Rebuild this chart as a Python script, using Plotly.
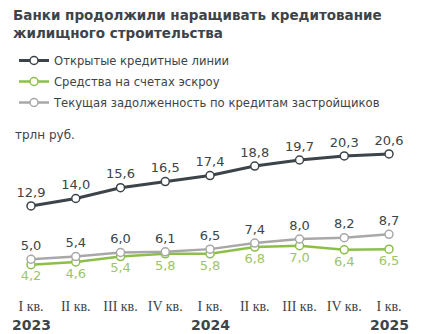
import plotly.graph_objects as go

quarters = ["I кв.", "II кв.", "III кв.", "IV кв.", "I кв.", "II кв.", "III кв.", "IV кв.", "I кв."]
years = {0: "2023", 4: "2024", 8: "2025"}
credit_lines = [12.9, 14.0, 15.6, 16.5, 17.4, 18.8, 19.7, 20.3, 20.6]
escrow = [4.2, 4.6, 5.4, 5.8, 5.8, 6.8, 7.0, 6.4, 6.5]
debt = [5.0, 5.4, 6.0, 6.1, 6.5, 7.4, 8.0, 8.2, 8.7]

names = ["Открытые кредитные линии", "Средства на счетах эскроу",
         "Текущая задолженность по кредитам застройщиков"]

DARK = "#3d4449"
GREEN = "#8cbf4a"
GREEN_TXT = "#9cc46b"
GRAY = "#a8a8aa"
SANS = "DejaVu Sans"

x = list(range(len(quarters)))

def fmt(v):
    return f"{v:.1f}".replace(".", ",")

fig = go.Figure()
series = [
    (credit_lines, names[0], DARK, DARK, "top center", 3),
    (escrow, names[1], GREEN, GREEN_TXT, "bottom center", 2.5),
    (debt, names[2], GRAY, DARK, "top center", 2.5),
]
for i, (vals, nm, col, tcol, tpos, w) in enumerate(series):
    fig.add_trace(go.Scatter(
        x=x, y=vals, name=nm, legendgroup=f"g{i}",
        mode="lines+markers+text",
        text=[fmt(v) for v in vals], textposition=tpos,
        textfont=dict(family=SANS, size=13, color=tcol),
        line=dict(color=col, width=w),
        marker=dict(symbol="circle", size=8, color="white",
                    line=dict(color=col, width=1.5)),
        cliponaxis=False,
    ))

for idx, yr in years.items():
    fig.add_annotation(x=idx, y=-0.113, xref="x", yref="paper", text=f"<b>{yr}</b>",
                       showarrow=False, yanchor="middle",
                       font=dict(family=SANS, size=14, color=DARK))

fig.add_annotation(x=13/421, y=1-135/292, xref="paper", yref="paper", text="трлн руб.",
                   showarrow=False, xanchor="left", yanchor="middle",
                   font=dict(family=SANS, size=12, color=DARK))

fig.add_annotation(x=11/421, y=1-5/292, xref="paper", yref="paper",
                   text="<b>Банки продолжили наращивать кредитование<br>жилищного строительства</b>",
                   showarrow=False, xanchor="left", yanchor="top", align="left",
                   font=dict(family=SANS, size=13.5, color=DARK))

fig.update_layout(
    width=421, height=334,
    margin=dict(l=0, r=0, t=0, b=42),
    paper_bgcolor="white", plot_bgcolor="white",
    legend=dict(x=14/421, y=1-46/292, xanchor="left", yanchor="top",
                bgcolor="rgba(0,0,0,0)", tracegroupgap=2,
                font=dict(family=SANS, size=11.6, color=DARK)),
    xaxis=dict(range=[-0.693, 8.715], tickmode="array", tickvals=x, ticktext=quarters,
               showgrid=False, zeroline=False, showline=False, ticks="",
               tickfont=dict(family="Liberation Serif", size=14, color=DARK),
               ticklabelstandoff=4),
    yaxis=dict(range=[0.15, 43.4], visible=False, showgrid=False),
    showlegend=True,
)

fig.write_html("out.html")
